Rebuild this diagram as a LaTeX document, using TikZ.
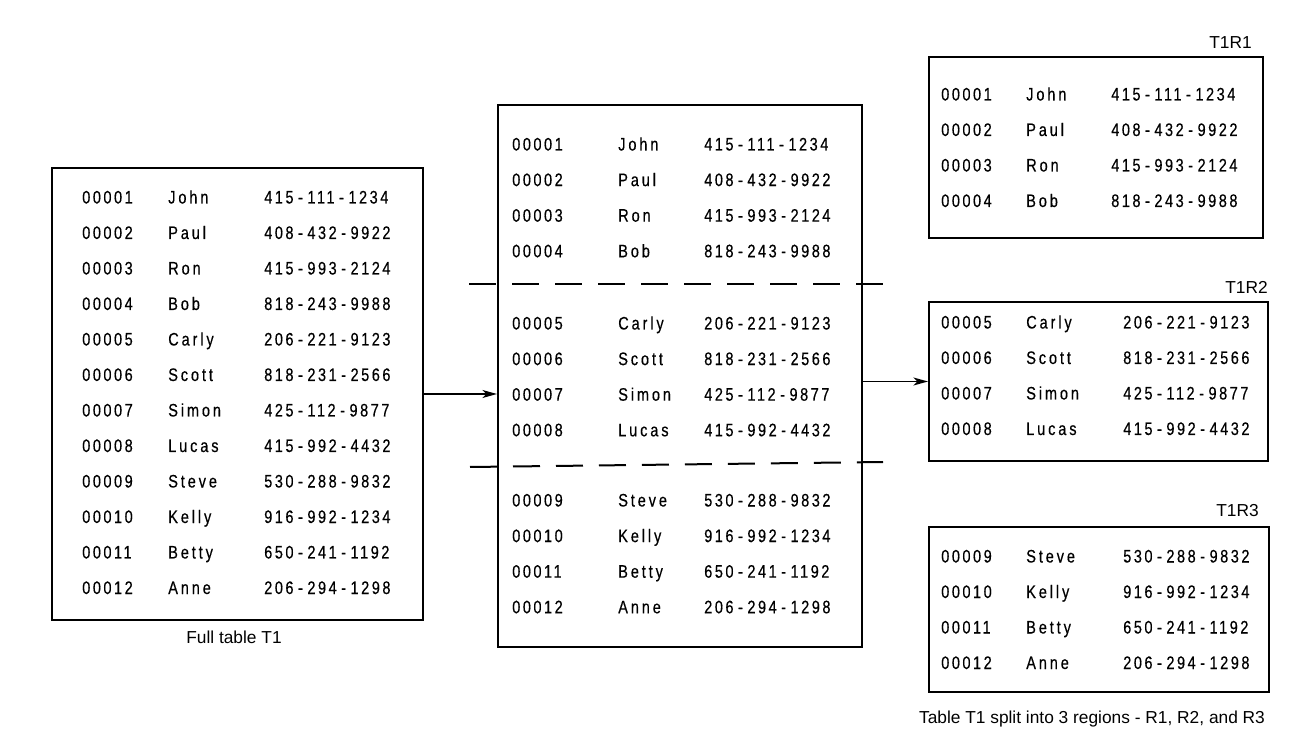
\documentclass[tikz,border=0pt]{standalone}
\usepackage{fontspec}
\setmainfont{Liberation Sans}
\newfontfamily\numfont[FakeStretch=0.8, FakeBold=0.4, LetterSpace=14]{Liberation Sans}
\newfontfamily\namefont[FakeStretch=0.8, FakeBold=0.4, LetterSpace=16]{Liberation Sans}
\usetikzlibrary{arrows.meta}

\tikzset{
  tablebox/.style={draw, line width=1.5pt, inner sep=0pt},
  cell/.style={anchor=base west, inner sep=0pt, font=\numfont\fontsize{13.6}{15}\selectfont},
  namecell/.style={cell, font=\namefont\fontsize{13.6}{15}\selectfont},
  caption/.style={inner sep=0pt, font=\fontsize{13}{15}\selectfont},
  flow/.style={-{Stealth[length=11pt,width=6pt,inset=3pt]}, line width=1.3pt},
  divider/.style={line width=1.5pt, dash pattern=on 20.25pt off 12pt}
}
\newcommand{\dash}{\hspace{3.4pt}-\hspace{3.4pt}}% wide hyphen of the phone numbers

\def\allrows{00001/John/415/111/1234, 00002/Paul/408/432/9922, 00003/Ron/415/993/2124,
  00004/Bob/818/243/9988, 00005/Carly/206/221/9123, 00006/Scott/818/231/2566,
  00007/Simon/425/112/9877, 00008/Lucas/415/992/4432, 00009/Steve/530/288/9832,
  00010/Kelly/916/992/1234, 00011/Betty/650/241/1192, 00012/Anne/206/294/1298}

\begin{document}
\begin{tikzpicture}[x=0.75pt,y=-0.75pt]
  \def\px{0.75pt}
  \useasboundingbox (0,0) rectangle (1290,752);
  % the boxes
  \node[tablebox, minimum width=371*\px, minimum height=452*\px] (full) at (237.5,394) {};
  \node[tablebox, minimum width=364*\px, minimum height=542*\px] (split) at (680,376) {};
  \node[tablebox, minimum width=334*\px, minimum height=181*\px] (r1) at (1096,147.5) {};
  \node[tablebox, minimum width=339*\px, minimum height=159*\px] (r2) at (1098.5,381.5) {};
  \node[tablebox, minimum width=340*\px, minimum height=165*\px] (r3) at (1099,609.5) {};
  \foreach \id/\who/\ta/\tb/\tc [count=\r] in \allrows {%
    \pgfmathtruncatemacro{\g}{(\r-1)/4}% which region the row is in
    \pgfmathtruncatemacro{\k}{mod(\r-1,4)}% row inside the region
    % full table
    \pgfmathsetmacro{\y}{197+35.5*(\r-1)+6.5}
    \node[cell] (full-id-\r) at (82,\y) {\id};
    \node[namecell] (full-who-\r) at (168,\y) {\who};
    \node[cell] (full-tel-\r) at (264,\y) {\ta\dash\tb\dash\tc};
    % middle table, cut in three
    \pgfmathsetmacro{\y}{{144,323,500}[\g]+35.6*\k+6.5}
    \node[cell] (split-id-\r) at (512,\y) {\id};
    \node[namecell] (split-who-\r) at (618,\y) {\who};
    \node[cell] (split-tel-\r) at (704,\y) {\ta\dash\tb\dash\tc};
    % one of the region tables
    \pgfmathsetmacro{\y}{{94,322,556}[\g]+35.5*\k+6.5}
    \pgfmathsetmacro{\x}{{1111,1123,1123}[\g]}
    \node[cell] (reg-id-\r) at (941,\y) {\id};
    \node[namecell] (reg-who-\r) at (1026,\y) {\who};
    \node[cell] (reg-tel-\r) at (\x,\y) {\ta\dash\tb\dash\tc};
  }
  % region borders
  \coordinate (cutA-w) at (469,284);
  \coordinate (cutA-e) at (883,284);
  \coordinate (cutB-w) at (470,467);
  \coordinate (cutB-e) at (883,462);
  \draw[divider] (cutA-w) -- (cutA-e);
  \draw[divider] (cutB-w) -- (cutB-e);
  % arrows
  \draw[flow] (full.east) -- (full.east -| split.west);
  \draw[flow] (r2.west -| split.east) -- (r2.west);
  % labels
  \node[caption, anchor=east] (r1-name) at (1252,43) {T1R1};
  \node[caption, anchor=east] (r2-name) at (1268,287) {T1R2};
  \node[caption, anchor=east] (r3-name) at (1259,511) {T1R3};
  \node[caption] (full-name) at (234,637) {Full table T1};
  \node[caption] (split-name) at (1092,719) {Table T1 split into 3 regions - R1, R2, and R3};
\end{tikzpicture}
\end{document}
